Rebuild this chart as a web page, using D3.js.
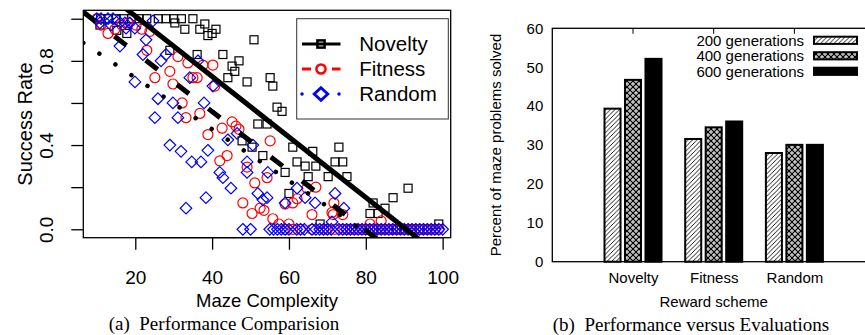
<!DOCTYPE html>
<html>
<head>
<meta charset="utf-8">
<script src="https://cdn.jsdelivr.net/npm/d3@7"></script>
<style>
  body { margin: 0; background: #fff; }
  svg { display: block; font-family: "Liberation Sans", Arial, sans-serif; }
  .cap { font-family: "Liberation Serif", "Times New Roman", serif; white-space: pre; }
</style>
</head>
<body>
<svg id="chart" width="865" height="335"></svg>
<script>
// ---- (a) maze complexity vs success rate ----
const noveltyX = [11, 13, 15, 17, 19, 21, 23, 26, 28, 30, 32, 35,
  10.8, 15.2, 17.8, 30.3, 32.9, 36.8, 38.1, 40, 41, 38.9, 50.9, 29, 36.1, 42.8, 45.2, 47, 45.9, 44.1,
  49.1, 55.1, 55.8, 56.9, 58.2, 51.9, 54.3, 47.8, 50.4, 61, 66.2, 73, 53.2, 62.1, 64.2, 67, 72, 74,
  59, 65, 70.2, 75.1, 60, 91, 87.1, 81.9, 85, 81.1, 83.2, 68.1, 99, 84, 88, 92, 96];
const noveltyY = [1, 1, 1, 1, 1, 1, 1, 1, 1, 1, 1, 1,
  0.97, 0.945, 0.93, 0.98, 0.95, 0.95, 0.975, 0.93, 0.95, 0.92, 0.90, 0.85, 0.83, 0.83, 0.775, 0.80, 0.75, 0.72,
  0.70, 0.72, 0.68, 0.58, 0.56, 0.50, 0.50, 0.42, 0.39, 0.39, 0.37, 0.39, 0.35, 0.32, 0.30, 0.30, 0.32, 0.32,
  0.27, 0.25, 0.25, 0.25, 0.17, 0.195, 0.15, 0.125, 0.10, 0.075, 0.075, 0.025, 0.025, 0, 0, 0, 0];

const fitnessX = [10, 11.1, 12.9, 14.7, 16.5, 18.1, 20.2, 21.7, 23.8, 23, 25.1, 29, 29.8, 31.1, 33.7, 35, 36.1,
  37.6, 40.2, 40.7, 32.2, 33.2, 36.8, 38.9, 42.6, 45.2, 46.2, 47, 55.1, 43.9, 42, 49.1, 51.1, 54.3, 48,
  50.4, 52.5, 53.5, 55.8, 57.4, 60, 59, 61, 62.1, 64.7, 67, 66, 71.5, 74, 71.7, 71.2, 81.1, 84,
  59, 61, 63, 66, 69, 70, 72, 74, 75, 76, 77, 78, 79, 80, 81, 82, 83, 84, 85, 86, 87, 88, 89, 90,
  91, 92, 93, 94, 95, 96, 97, 98, 99];
const fitnessY = [1, 0.97, 0.93, 0.95, 0.97, 0.98, 0.97, 0.95, 0.94, 0.85, 0.72, 0.75, 0.69, 0.82, 0.79, 0.72, 0.72,
  0.78, 0.78, 0.68, 0.60, 0.53, 0.55, 0.45, 0.48, 0.51, 0.49, 0.475, 0.42, 0.35, 0.325, 0.295, 0.22, 0.245, 0.125,
  0.075, 0.10, 0.09, 0.05, 0.025, 0.025, 0.12, 0.125, 0.145, 0.195, 0.20, 0.07, 0.07, 0.07, 0.125, 0.08, 0.025, 0.04,
  0, 0, 0, 0, 0, 0, 0, 0, 0, 0, 0, 0, 0, 0, 0, 0, 0, 0, 0, 0, 0, 0, 0, 0,
  0, 0, 0, 0, 0, 0, 0, 0, 0];

const randomX = [10, 11.1, 12.9, 14.2, 10.8, 13.7, 15.5, 17.3, 18.6, 17.6, 19.9, 24.6, 16, 22.8, 22, 26.7, 28,
  19.9, 34.2, 36.3, 25.9, 29.8, 31.1, 25.1, 37.9, 40.2, 29, 31.9, 34.7, 37.1, 38.9, 38.4, 33.2, 42, 42.8,
  44.9, 44.1, 46.5, 49.1, 50.6, 49.1, 51.9, 53.2, 54.3, 54.5, 59, 62.1, 64.2, 66.8, 72, 74.3, 71.2,
  48, 50, 55, 56, 57, 58, 59, 60, 62, 63, 64, 66, 67, 68, 69, 70, 71, 73, 74, 75, 76, 77, 78, 79, 80,
  81, 82, 83, 84, 85, 86, 87, 88, 89, 90, 91, 92, 93, 94, 95, 96, 97, 98, 99, 100];
const randomY = [1, 1, 1, 1, 0.98, 0.97, 0.99, 0.98, 0.98, 0.955, 0.955, 0.99, 0.87, 0.90, 0.83, 0.80, 0.83,
  0.70, 0.72, 0.80, 0.62, 0.60, 0.53, 0.53, 0.60, 0.68, 0.40, 0.37, 0.32, 0.32, 0.375, 0.15, 0.10, 0.27, 0.245,
  0.195, 0.425, 0.455, 0.27, 0.40, 0.32, 0.17, 0.14, 0.15, 0.27, 0.125, 0.195, 0.15, 0.125, 0.17, 0.10, 0.035,
  0, 0, 0, 0, 0, 0, 0, 0, 0, 0, 0, 0, 0, 0, 0, 0, 0, 0, 0, 0, 0, 0, 0, 0, 0,
  0, 0, 0, 0, 0, 0, 0, 0, 0, 0, 0, 0, 0, 0, 0, 0, 0, 0, 0, 0];

// fitted lines (intercept, slope) per reward scheme
const seriesA = ['Novelty', 'Fitness', 'Random'];
const fitIntercept = [1.30, 1.123, 0.964];
const fitSlope = [-0.01436, -0.0141, -0.01222];
const xTicksA = [20, 40, 60, 80, 100];
const yTicksA = [0, 0.2, 0.4, 0.6, 0.8, 1.0];
const yTickLabelsA = ['0.0', '', '0.4', '', '0.8', ''];

// ---- (b) percent solved per reward scheme ----
const schemes = ['Novelty', 'Fitness', 'Random'];
const generations = ['200 generations', '400 generations', '600 generations'];
const gen200 = [39.6, 31.8, 28.2];
const gen400 = [47.0, 34.8, 30.3];
const gen600 = [52.4, 36.3, 30.3];
const yTicksB = [0, 10, 20, 30, 40, 50, 60];

const svg = d3.select('#chart');
svg.append('rect').attr('width', 865).attr('height', 335).attr('fill', '#fff');
const defs = svg.append('defs');

// ================= (a) =================
const xA = d3.scaleLinear().domain([6.47, 102.1]).range([83.3, 450.7]);
const yA = d3.scaleLinear().domain([-0.04, 1.04]).range([237.7, 10.3]);

defs.append('clipPath').attr('id', 'clipA').append('rect')
  .attr('x', xA.range()[0]).attr('y', yA.range()[1])
  .attr('width', xA.range()[1] - xA.range()[0]).attr('height', yA.range()[0] - yA.range()[1]);

const plotA = svg.append('g').attr('clip-path', 'url(#clipA)');
const pts = (xs, ys) => xs.map((x, i) => [x, ys[i]]);

plotA.selectAll('rect.nov').data(pts(noveltyX, noveltyY)).enter().append('rect')
  .attr('class', 'nov')
  .attr('x', d => xA(d[0]) - 4).attr('y', d => yA(d[1]) - 4)
  .attr('width', 8).attr('height', 8)
  .attr('fill', 'none').attr('stroke', '#000').attr('stroke-width', 1.2);

plotA.selectAll('circle.fit').data(pts(fitnessX, fitnessY)).enter().append('circle')
  .attr('class', 'fit')
  .attr('cx', d => xA(d[0])).attr('cy', d => yA(d[1])).attr('r', 5)
  .attr('fill', 'none').attr('stroke', '#ff0000').attr('stroke-width', 1.2);

const diamond = 'M0,-5.8L5.8,0L0,5.8L-5.8,0Z';
plotA.selectAll('path.rnd').data(pts(randomX, randomY)).enter().append('path')
  .attr('class', 'rnd')
  .attr('d', diamond)
  .attr('transform', d => `translate(${xA(d[0])},${yA(d[1])})`)
  .attr('fill', 'none').attr('stroke', '#0000ff').attr('stroke-width', 1.2);

const lineStyles = [
  { w: 5, dash: null, cap: 'butt' },
  { w: 5, dash: '15,24.5', cap: 'butt' },
  { w: 4.5, dash: '0.01,19.3', cap: 'round' }
];
const lineA = d3.line().x(p => xA(p[0])).y(p => yA(p[1]));
seriesA.forEach((s, i) => {
  const seg = xA.domain().map(x => [x, fitIntercept[i] + fitSlope[i] * x]);
  plotA.append('path').attr('d', lineA(seg))
    .attr('fill', 'none').attr('stroke', '#000')
    .attr('stroke-width', lineStyles[i].w)
    .attr('stroke-dasharray', lineStyles[i].dash)
    .attr('stroke-linecap', lineStyles[i].cap);
});

svg.append('rect')
  .attr('x', xA.range()[0]).attr('y', yA.range()[1])
  .attr('width', xA.range()[1] - xA.range()[0]).attr('height', yA.range()[0] - yA.range()[1])
  .attr('fill', 'none').attr('stroke', '#000').attr('stroke-width', 1.3);

const gxA = svg.append('g').attr('transform', `translate(0,${yA.range()[0]})`)
  .call(d3.axisBottom(xA).tickValues(xTicksA).tickSize(12).tickPadding(21));
gxA.select('.domain').remove();
gxA.append('line').attr('x1', xA(xTicksA[0])).attr('x2', xA(xTicksA[xTicksA.length - 1]))
  .attr('stroke', '#000').attr('stroke-width', 1.3);
gxA.attr('font-size', 19).attr('font-family', null);
gxA.selectAll('line').attr('stroke-width', 1.3);
gxA.selectAll('text').attr('fill', '#000');

const gyA = svg.append('g').attr('transform', `translate(${xA.range()[0]},0)`)
  .call(d3.axisLeft(yA).tickValues(yTicksA).tickSize(12).tickFormat((d, i) => yTickLabelsA[i]));
gyA.select('.domain').remove();
gyA.attr('font-size', 19).attr('font-family', null);
gyA.selectAll('line').attr('stroke-width', 1.3);
gyA.selectAll('text').attr('fill', '#000')
  .attr('transform', 'rotate(-90)').attr('x', 0).attr('y', -30).attr('dy', 0)
  .attr('text-anchor', 'middle');

svg.append('text')
  .attr('transform', `translate(31.5,${(yA.range()[0] + yA.range()[1]) / 2}) rotate(-90)`)
  .attr('text-anchor', 'middle').attr('font-size', 20).text('Success Rate');
svg.append('text').attr('x', (xA.range()[0] + xA.range()[1]) / 2).attr('y', 306.5)
  .attr('text-anchor', 'middle').attr('font-size', 18.5).text('Maze Complexity');
svg.append('text').attr('class', 'cap').attr('x', 224).attr('y', 330)
  .attr('text-anchor', 'middle').attr('font-size', 19).text('(a)  Performance Comparision');

// legend (a)
const legA = svg.append('g');
legA.append('rect').attr('x', 296.7).attr('y', 18.7).attr('width', 151.6).attr('height', 100.3)
  .attr('fill', '#fff').attr('stroke', '#333').attr('stroke-width', 1);
const legColors = ['#000', '#ff0000', '#0000ff'];
const legDash = [null, '9,21,9', '0.01,37'];
seriesA.forEach((s, i) => {
  const cy = 44 + i * 25;
  const g = legA.append('g').attr('transform', `translate(0,${cy})`);
  g.append('line').attr('x1', 302).attr('x2', 340.5)
    .attr('stroke', legColors[i]).attr('stroke-width', i === 2 ? 3.5 : 3)
    .attr('stroke-dasharray', legDash[i]).attr('stroke-linecap', i === 2 ? 'round' : 'butt');
  const m = g.append('g').attr('transform', 'translate(321,0)');
  if (i === 0) m.append('rect').attr('x', -3.6).attr('y', -3.6).attr('width', 7.2).attr('height', 7.2)
    .attr('fill', 'none').attr('stroke', '#000').attr('stroke-width', 2.5);
  if (i === 1) m.append('circle').attr('r', 4.6)
    .attr('fill', 'none').attr('stroke', '#ff0000').attr('stroke-width', 2.5);
  if (i === 2) m.append('path').attr('d', 'M0,-6.3L6.8,0L0,6.3L-6.8,0Z')
    .attr('fill', 'none').attr('stroke', '#0000ff').attr('stroke-width', 2.8);
  g.append('text').attr('x', 359.3).attr('dy', '0.36em').attr('font-size', 20.5).text(s);
});

// ================= (b) =================
const xB = d3.scaleLinear().domain([0, 4]).range([552.3, 875.1]);
const yB = d3.scaleLinear().domain([0, 60]).range([261.7, 28.3]);
const inner = d3.scaleBand().domain(generations).range([-29.5, 29.5]).paddingInner(0.12);
const barValues = [gen200, gen400, gen600];

const hatch = defs.append('pattern').attr('id', 'hatch').attr('patternUnits', 'userSpaceOnUse')
  .attr('width', 4.5).attr('height', 4.5);
hatch.append('rect').attr('width', 4.5).attr('height', 4.5).attr('fill', '#fff');
hatch.append('path').attr('d', 'M-1,1L1,-1M0,4.5L4.5,0M3.5,5.5L5.5,3.5')
  .attr('stroke', '#000').attr('stroke-width', 0.9);

const cross = defs.append('pattern').attr('id', 'cross').attr('patternUnits', 'userSpaceOnUse')
  .attr('width', 6).attr('height', 6);
cross.append('rect').attr('width', 6).attr('height', 6).attr('fill', '#fff');
cross.append('path').attr('d', 'M0,0L6,6M0,6L6,0').attr('stroke', '#000').attr('stroke-width', 1.3);
cross.append('path').attr('d', 'M0,3h0.1M6,3h0.1M3,0h0.1M3,6h0.1')
  .attr('stroke', '#000').attr('stroke-width', 1.2).attr('stroke-linecap', 'round');

const fills = ['url(#hatch)', 'url(#cross)', '#000'];

const barsB = svg.append('g');
generations.forEach((gname, j) => {
  barsB.selectAll(`rect.g${j}`).data(barValues[j]).enter().append('rect')
    .attr('class', `g${j}`)
    .attr('x', (d, i) => xB(i + 1) + inner(gname) + 1)
    .attr('width', inner.bandwidth() - 2)
    .attr('y', d => yB(d) + 1)
    .attr('height', d => yB(0) - yB(d) - 1)
    .attr('fill', fills[j]).attr('stroke', '#000').attr('stroke-width', 2);
});

// frame
svg.append('rect').attr('x', xB(0)).attr('y', yB(60))
  .attr('width', xB(4) - xB(0)).attr('height', yB(0) - yB(60))
  .attr('fill', 'none').attr('stroke', '#000').attr('stroke-width', 1.3);
svg.selectAll('line.topTick').data(schemes).enter().append('line')
  .attr('class', 'topTick')
  .attr('x1', (d, i) => xB(i + 1)).attr('x2', (d, i) => xB(i + 1))
  .attr('y1', yB(60)).attr('y2', yB(60) + 5.5)
  .attr('stroke', '#000').attr('stroke-width', 1);

const gyB = svg.append('g').attr('transform', `translate(${xB(0)},0)`)
  .call(d3.axisLeft(yB).tickValues(yTicksB).tickSize(0).tickPadding(9));
gyB.select('.domain').remove();
gyB.attr('font-size', 15).attr('font-family', null);
gyB.selectAll('text').attr('fill', '#000');

const gxB = svg.append('g').attr('transform', `translate(0,${yB(0)})`)
  .call(d3.axisBottom(xB).tickValues([1, 2, 3]).tickSize(0).tickPadding(10.5).tickFormat(d => schemes[d - 1]));
gxB.select('.domain').remove();
gxB.attr('font-size', 15).attr('font-family', null);
gxB.selectAll('text').attr('fill', '#000');

svg.append('text').attr('transform', `translate(501,${(yB(0) + yB(60)) / 2}) rotate(-90)`)
  .attr('text-anchor', 'middle').attr('font-size', 15).text('Percent of maze problems solved');
svg.append('text').attr('x', xB(2)).attr('y', 306.5)
  .attr('text-anchor', 'middle').attr('font-size', 15).text('Reward scheme');
svg.append('text').attr('class', 'cap').attr('x', 691).attr('y', 331)
  .attr('text-anchor', 'middle').attr('font-size', 19).text('(b)  Performance versus Evaluations');

// legend (b)
const legB = svg.append('g');
generations.forEach((gname, j) => {
  const cy = 40.3 + j * 15.5;
  legB.append('text').attr('x', 804).attr('y', cy).attr('dy', '0.36em')
    .attr('text-anchor', 'end').attr('font-size', 15).text(gname);
  legB.append('rect').attr('x', 814).attr('y', cy - 3.6).attr('width', 43).attr('height', 7.2)
    .attr('fill', fills[j]).attr('stroke', '#000').attr('stroke-width', 2);
});
</script>
</body>
</html>
